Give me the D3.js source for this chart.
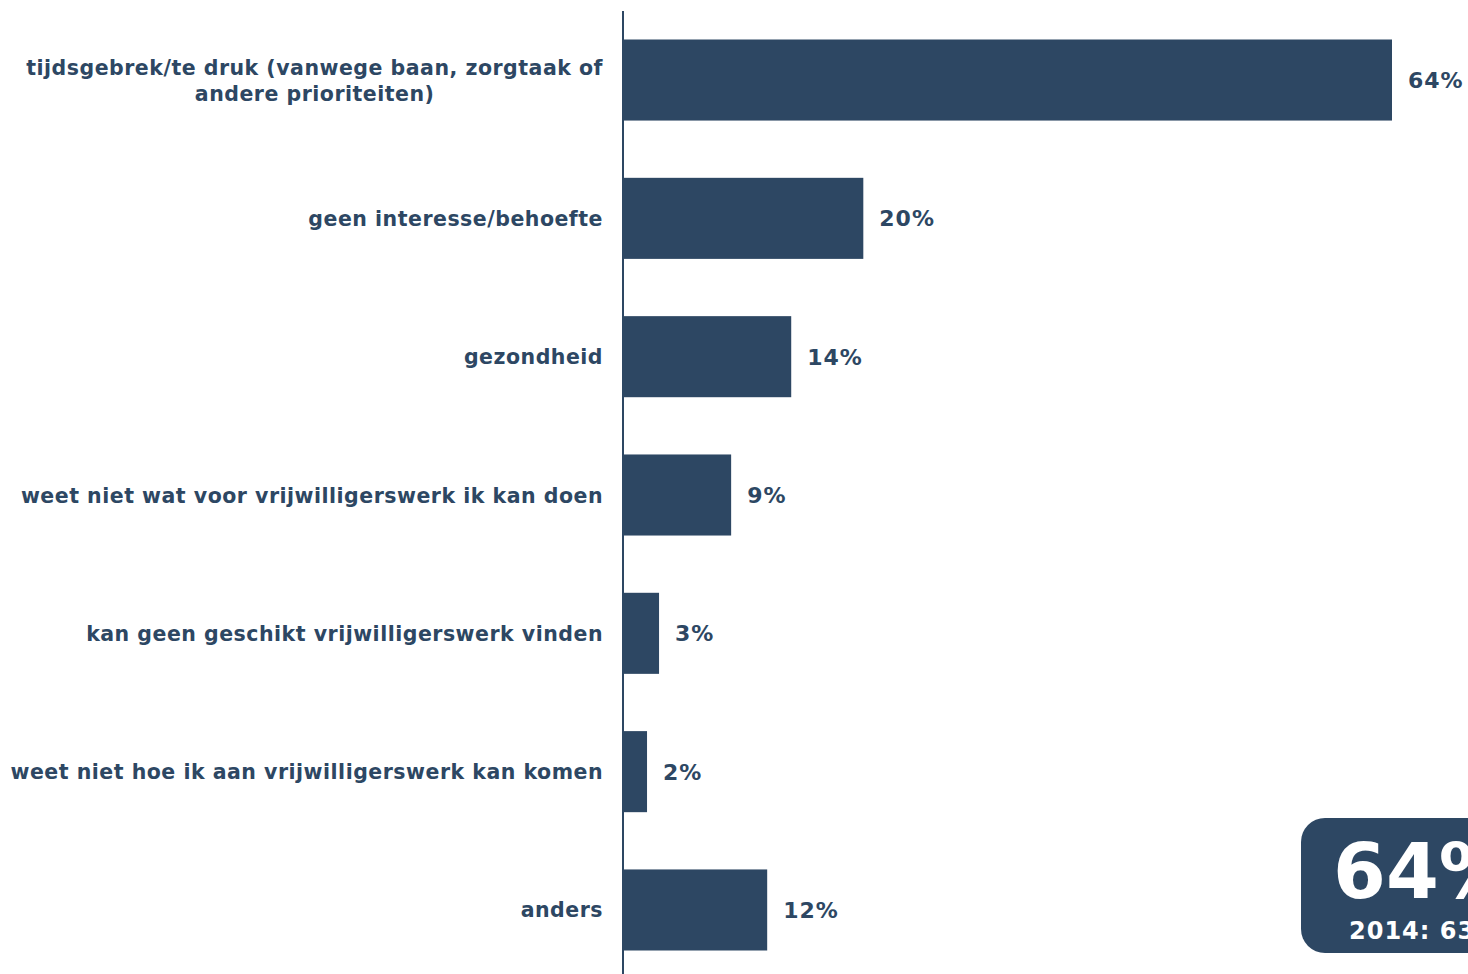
<!DOCTYPE html>
<html>
<head>
<meta charset="utf-8">
<script src="https://cdn.jsdelivr.net/npm/d3@7"></script>
<style>
  html, body { margin: 0; padding: 0; background: #ffffff; }
  svg { display: block; }
  text { font-family: "DejaVu Sans", Verdana, sans-serif; font-weight: bold; fill: #2d4763; }
</style>
</head>
<body>
<svg id="chart" width="1468" height="974"></svg>
<script>
// Redenen om geen vrijwilligerswerk te doen (%)
const categories = [
  ["tijdsgebrek/te druk (vanwege baan, zorgtaak of", "andere prioriteiten)"],
  ["geen interesse/behoefte"],
  ["gezondheid"],
  ["weet niet wat voor vrijwilligerswerk ik kan doen"],
  ["kan geen geschikt vrijwilligerswerk vinden"],
  ["weet niet hoe ik aan vrijwilligerswerk kan komen"],
  ["anders"]
];
const values = [64, 20, 14, 9, 3, 2, 12];
const highlightValue = 64;
const highlightPrevious = "2014: 63%";

const color = "#2d4763";
const svg = d3.select("#chart");

const keys = categories.map((c, i) => i);
const y = d3.scaleBand().domain(keys).range([39.5, 950.5]).paddingInner(0.414).paddingOuter(0);
const x = d3.scaleLinear().domain([0, 64]).range([623, 1392]);

// bars
svg.append("g").selectAll("rect")
  .data(values)
  .join("rect")
  .attr("x", x(0))
  .attr("y", (d, i) => y(i))
  .attr("width", d => x(d) - x(0))
  .attr("height", y.bandwidth())
  .attr("fill", color);

// vertical axis line
svg.append("line")
  .attr("x1", x(0)).attr("x2", x(0))
  .attr("y1", 11).attr("y2", 974)
  .attr("stroke", color).attr("stroke-width", 2);

// category labels
const lineH = 26;
const labels = svg.append("g").selectAll("text")
  .data(categories)
  .join("text")
  .attr("text-anchor", "end")
  .attr("font-size", 20.5)
  .attr("letter-spacing", 0.5)
  .attr("y", (d, i) => y(i) + y.bandwidth() / 2 + 7.5 - (d.length - 1) * lineH / 2);
labels.each(function(lines) {
  const t = d3.select(this);
  lines.forEach((ln, j) => {
    t.append("tspan")
      .attr("x", 603)
      .attr("dy", j === 0 ? 0 : lineH)
      .text(ln);
  });
});
// second line of the first label is centred under the first line
const first = labels.filter((d, i) => i === 0);
const firstSpans = first.selectAll("tspan").nodes();
if (firstSpans.length === 2) {
  const w0 = firstSpans[0].getComputedTextLength();
  d3.select(firstSpans[1]).attr("text-anchor", "middle").attr("x", 603 - w0 / 2);
}

// value labels
svg.append("g").selectAll("text")
  .data(values)
  .join("text")
  .attr("x", d => x(d) + 16)
  .attr("y", (d, i) => y(i) + y.bandwidth() / 2 + 8)
  .attr("font-size", 22)
  .attr("letter-spacing", 1)
  .text(d => d + "%");

// highlight box
const box = svg.append("g");
box.append("rect")
  .attr("x", 1301).attr("y", 818)
  .attr("width", 220).attr("height", 135)
  .attr("rx", 24).attr("ry", 24)
  .attr("fill", color);
box.append("text")
  .attr("x", 1333).attr("y", 898)
  .attr("font-size", 76)
  .style("fill", "#ffffff")
  .text(highlightValue + "%");
box.append("text")
  .attr("x", 1349).attr("y", 939)
  .attr("font-size", 24)
  .attr("letter-spacing", 1)
  .style("fill", "#ffffff")
  .text(highlightPrevious);
</script>
</body>
</html>
